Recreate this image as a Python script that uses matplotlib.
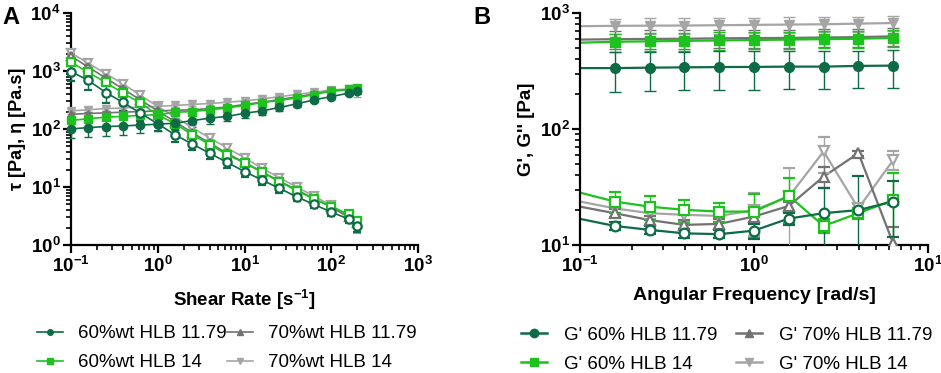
import numpy as np
import matplotlib
matplotlib.use("Agg")
import matplotlib.pyplot as plt
from matplotlib.lines import Line2D

plt.rcParams['font.family'] = ['Liberation Sans', 'DejaVu Sans']
plt.rcParams['mathtext.fontset'] = 'custom'
plt.rcParams['mathtext.rm'] = 'Liberation Sans'
plt.rcParams['mathtext.bf'] = 'Liberation Sans:bold'

# ---- panel A: flow curves ----
shear_rate = [0.1, 0.158, 0.251, 0.398, 0.631, 1.0, 1.585, 2.512, 3.981, 6.31,
              10.0, 15.85, 25.12, 39.81, 63.1, 100.0, 158.5, 200.0]

# shear stress tau [Pa]
tau_60_1179 = [100, 106, 110, 113, 117, 121, 126, 140, 154, 165, 187, 205, 235, 271, 317, 363, 415, 445]
tau_60_14 = [141, 150, 160, 165, 172, 176, 195, 200, 215, 230, 255, 285, 310, 345, 390, 460, 480, 510]
tau_70_1179 = [180, 185, 190, 195, 200, 205, 210, 215, 225, 240, 265, 290, 320, 360, 400, 450, 470, 470]
tau_70_14 = [205, 215, 225, 230, 240, 245, 255, 265, 275, 290, 305, 330, 360, 395, 430, 470, 490, 420]
tau_err_60_1179 = [30, 32, 35, 35, 32, 30, 30, 30, 30, 30, 30, 30, 28, 28, 25, 25, 20, 20]
tau_err_60_14 = [15, 15, 15, 15, 15, 15, 15, 15, 15, 15, 15, 15, 15, 15, 15, 20, 20, 20]
tau_err_70_1179 = [15, 15, 15, 15, 15, 15, 15, 15, 15, 15, 15, 15, 15, 15, 15, 20, 20, 40]
tau_err_70_14 = [20, 20, 20, 20, 20, 20, 20, 20, 20, 20, 20, 20, 20, 20, 20, 25, 25, 60]

# viscosity eta [Pa.s]
eta_60_1179 = [980, 690, 426, 287, 187, 123, 79, 55, 38, 26.5, 18.5, 13.2, 9.5, 6.8, 5.0, 3.7, 2.8, 2.1]
eta_60_14 = [1410, 950, 635, 415, 280, 175, 123, 79, 54, 36, 26, 18, 12.4, 8.7, 6.2, 4.6, 3.4, 2.6]
eta_70_1179 = [1800, 1170, 757, 490, 317, 205, 133, 86, 57, 38, 26.5, 18.4, 12.7, 9.0, 6.3, 4.5, 3.0, 2.35]
eta_70_14 = [2050, 1360, 900, 600, 380, 245, 160, 105, 70, 47, 32, 21, 14.5, 10, 7, 4.8, 3.2, 2.3]
eta_err_60_1179 = [300, 220, 140, 80, 50, 30, 20, 12, 8, 5, 3.5, 2.5, 1.5, 1.0, 0.7, 0.5, 0.4, 0.4]
eta_err_60_14 = [150, 100, 60, 40, 25, 15, 10, 7, 5, 3, 2, 1.5, 1, 0.7, 0.5, 0.4, 0.3, 0.3]
eta_err_70_1179 = [150, 100, 60, 40, 25, 15, 10, 7, 5, 3, 2, 1.5, 1, 0.7, 0.5, 0.4, 0.3, 0.4]
eta_err_70_14 = [200, 120, 70, 45, 30, 20, 12, 8, 5, 3.5, 2.5, 1.5, 1, 0.7, 0.5, 0.4, 0.3, 0.7]

# ---- panel B: frequency sweep ----
freq = [0.1, 0.158, 0.251, 0.398, 0.631, 1.0, 1.585, 2.512, 3.981, 6.31]

g1_60_1179 = [335, 335, 338, 340, 342, 343, 345, 345, 350, 352]
g1_60_14 = [555, 565, 570, 575, 580, 585, 590, 595, 600, 610]
g1_70_1179 = [590, 595, 598, 600, 605, 608, 610, 615, 620, 630]
g1_70_14 = [770, 775, 778, 780, 785, 790, 795, 800, 810, 820]
g1_err_60_1179 = [125] * 10
g1_err_60_14 = [100] * 10
g1_err_70_1179 = [110] * 10
g1_err_70_14 = [120] * 10

g2_60_1179 = [16.8, 14.6, 13.5, 12.6, 12.4, 13.3, 16.9, 18.8, 20.0, 23.7]
g2_60_14 = [28.3, 23.7, 21.4, 20.1, 19.4, 19.4, 26.5, 14.6, 18.8, 24.4]
g2_70_1179 = [21.4, 18.8, 16.4, 14.9, 15.2, 17.6, 21.7, 38.9, 61.8, 10.3]
g2_70_14 = [23.7, 20.7, 18.8, 18.2, 17.8, 20.0, 26.1, 64.0, 20.7, 54.0]
g2_err_60_1179 = [1.5, 1.2, 1.0, 1.0, 1.0, 2.0, 2.0, 12, 19, 12]
g2_err_60_14 = [2.0, 5.0, 5.0, 4.5, 3.5, 8.0, 11, 2.0, 2.0, 17]
g2_err_70_1179 = [1.5, 1.5, 1.5, 1.5, 1.5, 2.0, 2.0, 8.0, 3.0, 4.0]
g2_err_70_14 = [1.5, 2.0, 2.0, 2.0, 2.0, 8.0, 20, 22, 2.0, 10]

dark_green = '#0d6b45'
green = '#1ec21e'
dark_gray = '#727272'
light_gray = '#a5a5a5'

labels_a = ['60%wt HLB 11.79', '60%wt HLB 14', '70%wt HLB 11.79', '70%wt HLB 14']
labels_b = ["G' 60% HLB 11.79", "G' 60% HLB 14", "G' 70% HLB 11.79", "G' 70% HLB 14"]
colors = [dark_green, green, dark_gray, light_gray]
markers = ['o', 's', '^', 'v']

fig = plt.figure(figsize=(9.41, 3.73), dpi=100)
axA = fig.add_axes([0.0755, 0.3432, 0.3687, 0.6219])
axB = fig.add_axes([0.6164, 0.3432, 0.3698, 0.6219])


def style_axis(ax):
    ax.set_xscale('log')
    ax.set_yscale('log')
    for s in ['top', 'right']:
        ax.spines[s].set_visible(False)
    for s in ['left', 'bottom']:
        ax.spines[s].set_linewidth(1.6)
    ax.tick_params(which='major', direction='out', length=6, width=1.6, labelsize=13.5)
    ax.tick_params(axis='y', which='major', pad=1.5)
    ax.tick_params(axis='x', which='major', pad=2)
    ax.tick_params(which='minor', direction='out', length=3.5, width=1.2)
    for lab in ax.get_xticklabels() + ax.get_yticklabels():
        lab.set_fontweight('bold')


# panel A
taus = [tau_60_1179, tau_60_14, tau_70_1179, tau_70_14]
tau_errs = [tau_err_60_1179, tau_err_60_14, tau_err_70_1179, tau_err_70_14]
etas = [eta_60_1179, eta_60_14, eta_70_1179, eta_70_14]
eta_errs = [eta_err_60_1179, eta_err_60_14, eta_err_70_1179, eta_err_70_14]
order = [3, 2, 1, 0]
for i in order:
    c = colors[i]
    axA.errorbar(shear_rate, etas[i], yerr=eta_errs[i], color=c, marker=markers[i], ms=6,
                 mfc='white', mec=c, mew=1.6, lw=1.2, elinewidth=1.0, capsize=3, capthick=1.0,
                 clip_on=False, zorder=3)
    axA.errorbar(shear_rate, taus[i], yerr=tau_errs[i], color=c, marker=markers[i], ms=6,
                 mfc=c, mec=c, lw=1.2, elinewidth=1.0, capsize=3, capthick=1.0,
                 clip_on=False, zorder=3)

axA.set_xlim(0.1, 1000)
axA.set_ylim(1, 10000)
style_axis(axA)
axA.set_xlabel('Shear Rate [s$^{\\mathbf{-1}}$]', fontsize=13.5, fontweight='bold', labelpad=8)
axA.set_ylabel('\u03c4 [Pa], \u03b7 [Pa.s]', fontsize=13, fontweight='bold', labelpad=3)

# panel B
g1s = [g1_60_1179, g1_60_14, g1_70_1179, g1_70_14]
g1_errs = [g1_err_60_1179, g1_err_60_14, g1_err_70_1179, g1_err_70_14]
g2s = [g2_60_1179, g2_60_14, g2_70_1179, g2_70_14]
g2_errs = [g2_err_60_1179, g2_err_60_14, g2_err_70_1179, g2_err_70_14]
for i in order:
    c = colors[i]
    # lines from the first point, markers and bars from the second one on
    axB.plot(freq, g1s[i], color=c, lw=1.6, zorder=2)
    axB.plot(freq, g2s[i], color=c, lw=1.6, zorder=2)
    axB.errorbar(freq[1:], g1s[i][1:], yerr=g1_errs[i][1:], color=c, marker=markers[i], ms=7,
                 mfc=c, mec=c, lw=0, elinewidth=1.0, capsize=4, capthick=1.0, zorder=3)
    axB.errorbar(freq[1:], g2s[i][1:], yerr=g2_errs[i][1:], color=c, marker=markers[i], ms=7,
                 mfc='white', mec=c, mew=1.6, lw=0, elinewidth=1.0, capsize=4, capthick=1.0,
                 zorder=3)

axB.set_xlim(0.1, 10)
axB.set_ylim(10, 1000)
style_axis(axB)
axB.set_xlabel('Angular Frequency [rad/s]', fontsize=14, fontweight='bold', labelpad=8)
axB.set_ylabel("G', G'' [Pa]", fontsize=13.5, fontweight='bold', labelpad=3)

# legends
handles_a = [Line2D([], [], color=c, marker=m, ms=4, lw=1.2) for c, m in zip(colors, markers)]
axA.legend(handles_a, labels_a, ncol=2, loc='upper left', bbox_to_anchor=(-0.098, -0.345),
           frameon=False, fontsize=13.5, handlelength=1.4, handletextpad=0.8,
           columnspacing=0.0, labelspacing=0.65, borderpad=0, borderaxespad=0)
handles_b = [Line2D([], [], color=c, marker=m, ms=6, lw=1.8) for c, m in zip(colors, markers)]
axB.legend(handles_b, labels_b, ncol=2, loc='upper left', bbox_to_anchor=(-0.17, -0.353),
           frameon=False, fontsize=13.5, handlelength=1.4, handletextpad=0.9,
           columnspacing=1.0, labelspacing=0.62, borderpad=0, borderaxespad=0)

fig.text(0.003, 0.985, 'A', fontsize=17, fontweight='bold', va='top')
fig.text(0.503, 0.985, 'B', fontsize=17, fontweight='bold', va='top')

fig.savefig('out.png', dpi=100)
